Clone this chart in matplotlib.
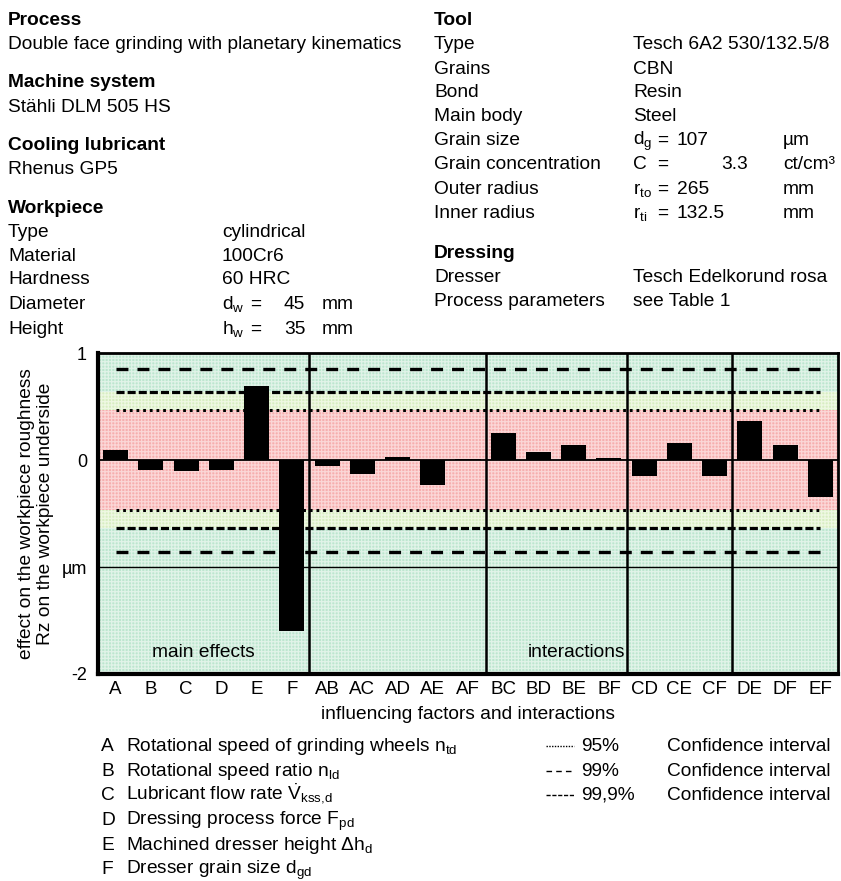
import matplotlib
matplotlib.use("Agg")
import matplotlib.pyplot as plt
import numpy as np

plt.rcParams['font.family'] = ['Liberation Sans', 'DejaVu Sans']
plt.rcParams['mathtext.fontset'] = 'custom'
plt.rcParams['mathtext.rm'] = 'Liberation Sans'
plt.rcParams['mathtext.it'] = 'Liberation Sans'
plt.rcParams['lines.scale_dashes'] = False
plt.rcParams['hatch.linewidth'] = 0.9

# ---------------- data ----------------
categories = ["A", "B", "C", "D", "E", "F", "AB", "AC", "AD", "AE", "AF",
              "BC", "BD", "BE", "BF", "CD", "CE", "CF", "DE", "DF", "EF"]
effects = [0.10, -0.09, -0.10, -0.09, 0.69, -1.60, -0.055, -0.125, 0.03, -0.23, 0.015,
           0.25, 0.08, 0.14, 0.02, -0.15, 0.165, -0.15, 0.37, 0.14, -0.34]
ci95 = 0.465
ci99 = 0.635
ci999 = 0.855
group_bounds = [5.5, 10.5, 14.5, 17.5]
ytick_vals = [1, 0, -1, -2]
ytick_labels = ["1", "0", "µm", "-2"]

W, H = 841, 881
FS = 13.8
fig = plt.figure(figsize=(W / 100, H / 100), dpi=100)

def T(x, y, s, **kw):
    kw.setdefault('fontsize', FS)
    kw.setdefault('va', 'baseline')
    fig.text(x / W, 1 - y / H, s, **kw)

# ---------------- header text ----------------
T(8, 25, "Process", fontweight='bold')
T(8, 49, "Double face grinding with planetary kinematics")
T(8, 87, "Machine system", fontweight='bold')
T(8, 112, "Stähli DLM 505 HS")
T(8, 150, "Cooling lubricant", fontweight='bold')
T(8, 174, "Rhenus GP5")
T(8, 213, "Workpiece", fontweight='bold')
left_rows = [("Type", "cylindrical"), ("Material", "100Cr6"), ("Hardness", "60 HRC")]
ys = [237, 261, 284]
for (a, b), y in zip(left_rows, ys):
    T(8, y, a)
    T(222, y, b)
T(8, 309, "Diameter")
T(222, 309, r"d$_\mathregular{w}$")
T(250, 309, "=")
T(284, 309, "45")
T(322, 309, "mm")
T(8, 334, "Height")
T(222, 334, r"h$_\mathregular{w}$")
T(250, 334, "=")
T(284, 334, "35")
T(322, 334, "mm")

T(434, 25, "Tool", fontweight='bold')
right_rows = [("Type", "Tesch 6A2 530/132.5/8"), ("Grains", "CBN"), ("Bond", "Resin"),
              ("Main body", "Steel")]
ys = [49, 74, 97, 121]
for (a, b), y in zip(right_rows, ys):
    T(434, y, a)
    T(633, y, b)
T(434, 145, "Grain size")
T(633, 145, r"d$_\mathregular{g}$")
T(657, 145, "=")
T(677, 145, "107")
T(783, 145, "µm")
T(434, 169, "Grain concentration")
T(633, 169, "C")
T(657, 169, "=")
T(748, 169, "3.3", ha='right')
T(783, 169, "ct/cm³")
T(434, 194, "Outer radius")
T(633, 194, r"r$_\mathregular{to}$")
T(657, 194, "=")
T(677, 194, "265")
T(783, 194, "mm")
T(434, 218, "Inner radius")
T(633, 218, r"r$_\mathregular{ti}$")
T(657, 218, "=")
T(677, 218, "132.5")
T(783, 218, "mm")
T(434, 258, "Dressing", fontweight='bold')
T(434, 282, "Dresser")
T(633, 282, "Tesch Edelkorund rosa")
T(434, 306, "Process parameters")
T(633, 306, "see Table 1")

# ---------------- chart ----------------
L, R, TOP, BOT = 98, 838, 353.3, 674
ax = fig.add_axes([L / W, 1 - BOT / H, (R - L) / W, (BOT - TOP) / H])
x = np.arange(len(categories))
ax.set_xlim(-0.5, len(categories) - 0.5)
ax.set_ylim(-2, 1)

green, green_h = '#bce6cf', '#e0f3e8'
yellow, yellow_h = '#d8eec2', '#eef8e2'
pink, pink_h = '#f6aeae', '#fbd6d6'
ax.axhspan(-2, 1, facecolor=green, edgecolor=green_h, hatch='+++++', lw=0, zorder=0)
for s in (1, -1):
    ax.axhspan(s * ci95, s * ci99, facecolor=yellow, edgecolor=yellow_h, hatch='+++++', lw=0, zorder=0.5)
ax.axhspan(-ci95, ci95, facecolor=pink, edgecolor=pink_h, hatch='+++++', lw=0, zorder=0.5)

for s in (1, -1):
    ax.plot([0, 20], [s * ci95] * 2, color='black', lw=2.2, dashes=(2.0, 2.8),
            dash_capstyle='butt', zorder=2)
    ax.plot([0, 20], [s * ci99] * 2, color='black', lw=2.3, dashes=(5.8, 2.2),
            dash_capstyle='butt', zorder=2)
    ax.plot([0, 20], [s * ci999] * 2, color='black', lw=2.4, dashes=(8.6, 6.5),
            dash_capstyle='butt', zorder=2)

ax.axhline(0, color='black', lw=1.3, zorder=2.5)
ax.axhline(-1, color='black', lw=1.0, zorder=2.5)
for b in group_bounds:
    ax.axvline(b, color='black', lw=1.8, zorder=2.5)

ax.bar(x, effects, width=0.71, color='black', zorder=3)

ax.set_xticks(x)
ax.set_xticklabels(categories, fontsize=13.5)
ax.set_yticks(ytick_vals)
ax.set_yticklabels(ytick_labels, fontsize=13)
ax.tick_params(length=0)
ax.tick_params(axis='y', pad=8)
ax.tick_params(axis='x', pad=5)
for side, lw in (('left', 3), ('bottom', 3), ('top', 2), ('right', 2)):
    ax.spines[side].set_linewidth(lw)
    ax.spines[side].set_zorder(4)

ax.text(2.5, -1.8, "main effects", ha='center', va='center', fontsize=FS, zorder=4)
ax.text(14.45, -1.8, "interactions", ha='right', va='center', fontsize=FS, zorder=4)

T(468, 719, "influencing factors and interactions", ha='center')
fig.text(36 / W, 1 - 514 / H, "effect on the workpiece roughness\nRz on the workpiece underside",
         rotation=90, ha='center', va='center', fontsize=FS, multialignment='center',
         linespacing=1.2)

# ---------------- legend ----------------
leg_letters = ["A", "B", "C", "D", "E", "F"]
leg_texts = [r"Rotational speed of grinding wheels n$_\mathregular{td}$",
             r"Rotational speed ratio n$_\mathregular{ld}$",
             r"Lubricant flow rate $\dot{\mathregular{V}}_\mathregular{kss{,}d}$",
             r"Dressing process force F$_\mathregular{pd}$",
             r"Machined dresser height Δh$_\mathregular{d}$",
             r"Dresser grain size d$_\mathregular{gd}$"]
leg_y = [751, 776, 800, 825, 850, 874]
for l, t, y in zip(leg_letters, leg_texts, leg_y):
    T(101, y, l)
    T(126, y, t)

ci_labels = ["95%", "99%", "99,9%"]
ci_dashes = [(1.0, 1.0), (4.0, 3.0), (3.0, 1.2)]
for lab, d, y in zip(ci_labels, ci_dashes, leg_y[:3]):
    yy = 1 - (y - 5) / H
    fig.add_artist(plt.Line2D([546 / W, 574 / W], [yy, yy], color='black', lw=1.0,
                              dashes=d, dash_capstyle='butt'))
    T(581, y, lab)
    T(667, y, "Confidence interval")

fig.savefig("out.png", dpi=100)
